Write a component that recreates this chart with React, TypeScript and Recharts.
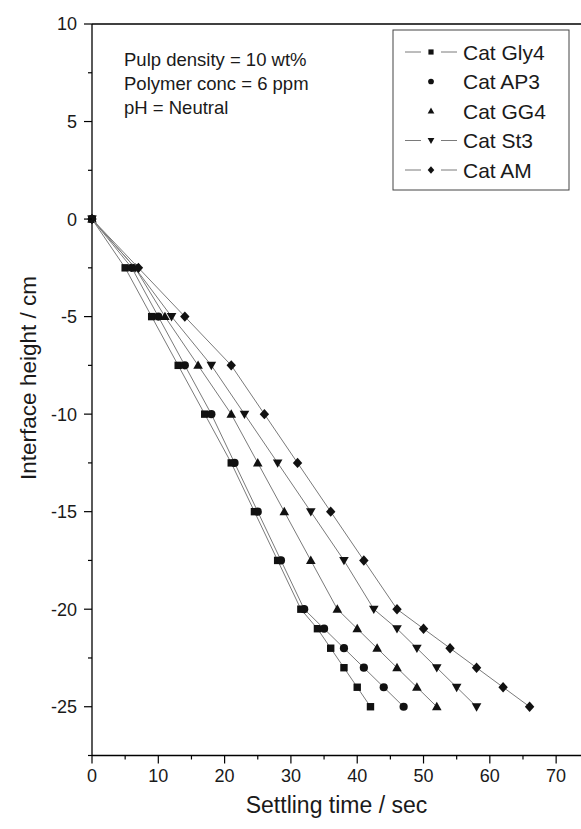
import { ScatterChart, Scatter, XAxis, YAxis, ReferenceLine, Customized } from 'recharts';

const heights = [0, -2.5, -5, -7.5, -10, -12.5, -15, -17.5, -20, -21, -22, -23, -24, -25];
const gly4 = [0, 5, 9, 13, 17, 21, 24.5, 28, 31.5, 34, 36, 38, 40, 42];
const ap3 = [0, 6, 10, 14, 18, 21.5, 25, 28.5, 32, 35, 38, 41, 44, 47];
const gg4 = [0, 6.5, 11, 16, 21, 25, 29, 33, 37, 40, 43, 46, 49, 52];
const st3 = [0, 6.5, 12, 18, 23, 28, 33, 38, 42.5, 46, 49, 52, 55, 58];
const am = [0, 7, 14, 21, 26, 31, 36, 41, 46, 50, 54, 58, 62, 66];

const xTicks = [0, 5, 10, 15, 20, 25, 30, 35, 40, 45, 50, 55, 60, 65, 70];
const yTicks = [10, 7.5, 5, 2.5, 0, -2.5, -5, -7.5, -10, -12.5, -15, -17.5, -20, -22.5, -25, -27.5];

const notes = ['Pulp density = 10 wt%', 'Polymer conc = 6 ppm', 'pH = Neutral'];

const FONT = '"Liberation Sans", Arial, sans-serif';
const LINE = '#7a7a7a';

type Kind = 'square' | 'circle' | 'triangle' | 'down' | 'diamond';

const series: { name: string; times: number[]; kind: Kind; legendLine: boolean }[] = [
  { name: 'Cat Gly4', times: gly4, kind: 'square', legendLine: true },
  { name: 'Cat AP3', times: ap3, kind: 'circle', legendLine: false },
  { name: 'Cat GG4', times: gg4, kind: 'triangle', legendLine: false },
  { name: 'Cat St3', times: st3, kind: 'down', legendLine: true },
  { name: 'Cat AM', times: am, kind: 'diamond', legendLine: true },
];

const Marker = ({ kind, cx, cy, s = 1 }: { kind: Kind; cx: number; cy: number; s?: number }) => {
  if (cx == null || cy == null) return null;
  switch (kind) {
    case 'square':
      return <rect x={cx - 3.7 * s} y={cy - 3.7 * s} width={7.4 * s} height={7.4 * s} fill="#111" />;
    case 'circle':
      return <circle cx={cx} cy={cy} r={4.1 * s} fill="#111" />;
    case 'triangle':
      return <polygon points={`${cx},${cy - 4.9 * s} ${cx + 4.8 * s},${cy + 3.5 * s} ${cx - 4.8 * s},${cy + 3.5 * s}`} fill="#111" />;
    case 'down':
      return <polygon points={`${cx},${cy + 4.9 * s} ${cx + 4.8 * s},${cy - 3.5 * s} ${cx - 4.8 * s},${cy - 3.5 * s}`} fill="#111" />;
    default:
      return <polygon points={`${cx},${cy - 5.2 * s} ${cx + 4.7 * s},${cy} ${cx},${cy + 5.2 * s} ${cx - 4.7 * s},${cy}`} fill="#111" />;
  }
};

const YTick = (props: any) => {
  const { x, y, payload } = props;
  const major = payload.value % 5 === 0;
  return (
    <g>
      <line x1={x - (major ? 8 : 4)} x2={x} y1={y} y2={y} stroke="#000" strokeWidth={1.2} />
      {major && (
        <text x={x - 15} y={y} dy="0.36em" textAnchor="end" fontSize={18} fontFamily={FONT} fill="#1a1a1a">
          {payload.value}
        </text>
      )}
    </g>
  );
};

const XTick = (props: any) => {
  const { x, y, payload } = props;
  const major = payload.value % 10 === 0;
  return (
    <g>
      <line x1={x} x2={x} y1={y} y2={y + (major ? 8 : 4)} stroke="#000" strokeWidth={1.2} />
      {major && (
        <text x={x} y={y + 26} textAnchor="middle" fontSize={18} fontFamily={FONT} fill="#1a1a1a">
          {payload.value}
        </text>
      )}
    </g>
  );
};

const Extras = () => (
  <g fontFamily={FONT} fill="#1a1a1a">
    <text transform="translate(36,378) rotate(-90)" textAnchor="middle" fontSize={22.5}>
      Interface height / cm
    </text>
    {notes.map((n, i) => (
      <text key={n} x={124} y={65.5 + i * 24} fontSize={18.5}>
        {n}
      </text>
    ))}
    <rect x={393} y={30} width={176} height={160} fill="#fff" stroke="#444" strokeWidth={1} />
    {series.map((s, i) => {
      const cy = 52 + i * 29.5;
      return (
        <g key={s.name}>
          {s.legendLine && <line x1={405} x2={421} y1={cy} y2={cy} stroke={LINE} strokeWidth={1} />}
          {s.legendLine && <line x1={441} x2={457} y1={cy} y2={cy} stroke={LINE} strokeWidth={1} />}
          <Marker kind={s.kind} cx={431} cy={cy} s={0.7} />
          <text x={463} y={cy} dy="0.36em" fontSize={21}>
            {s.name}
          </text>
        </g>
      );
    })}
  </g>
);

export default function App() {
  return (
    <div style={{ position: 'absolute', left: 0, top: 0, width: 581, height: 829, overflow: 'hidden', background: '#fff' }}>
      <ScatterChart width={581} height={829} margin={{ top: 24, right: 0, left: 0, bottom: 0 }}>
        <XAxis
          type="number"
          dataKey="t"
          domain={[0, 73.75]}
          ticks={xTicks}
          interval={0}
          tickSize={0}
          tickMargin={0}
          tickLine={false}
          tick={<XTick />}
          height={73.5}
          axisLine={{ stroke: '#000', strokeWidth: 1.3 }}
          label={{ value: 'Settling time / sec', position: 'insideBottom', offset: 16, fontSize: 23, fontFamily: FONT, fill: '#1a1a1a' }}
        />
        <YAxis
          type="number"
          dataKey="h"
          domain={[-27.5, 10]}
          ticks={yTicks}
          interval={0}
          tickSize={0}
          tickMargin={0}
          tickLine={false}
          tick={<YTick />}
          width={92}
          axisLine={{ stroke: '#000', strokeWidth: 1.3 }}
        />
        <ReferenceLine y={10} stroke="#000" strokeWidth={1.3} />
        {series.map((s) => (
          <Scatter
            key={s.name}
            name={s.name}
            data={s.times.map((t, i) => ({ t, h: heights[i] }))}
            line={{ stroke: LINE, strokeWidth: 1 }}
            lineType="joint"
            isAnimationActive={false}
            shape={(p: any) => <Marker kind={s.kind} cx={p.cx} cy={p.cy} />}
          />
        ))}
        <Customized component={Extras} />
      </ScatterChart>
    </div>
  );
}
